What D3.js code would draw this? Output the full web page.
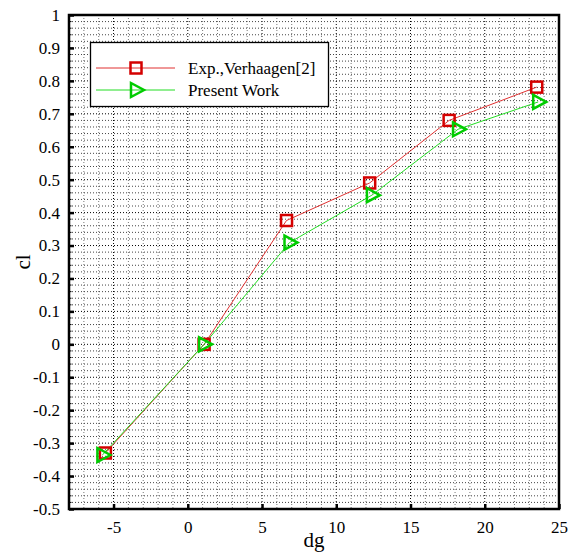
<!DOCTYPE html>
<html><head><meta charset="utf-8">
<script src="https://cdn.jsdelivr.net/npm/d3@7"></script>
<style>body{margin:0;background:#fff}svg text{font-family:'Liberation Serif',serif !important}</style>
</head><body><svg id="c" width="576" height="553"></svg>
<script>
const expX = [-5.55, 1.1, 6.65, 12.25, 17.6, 23.5];
const expY = [-0.33, 0.0, 0.376, 0.49, 0.68, 0.781];
const presX = [-5.75, 1.1, 6.85, 12.4, 18.2, 23.6];
const presY = [-0.336, 0.0, 0.309, 0.453, 0.653, 0.736];
const xTicks = [-5, 0, 5, 10, 15, 20, 25];
const yTicks = [-0.5,-0.4,-0.3,-0.2,-0.1,0,0.1,0.2,0.3,0.4,0.5,0.6,0.7,0.8,0.9,1];
const seriesNames = ["Exp.,Verhaagen[2]", "Present Work"];

const FF = "'Liberation Serif', serif";
const svg = d3.select("#c");
const L=69, R=559, T=15, B=509;
const x = d3.scaleLinear().domain([-8,25]).range([L,R]);
const y = d3.scaleLinear().domain([-0.5,1]).range([B,T]);

// grid
const g = svg.append("g");
const minorX = d3.range(-8, 25.001, 1);
const minorY = d3.range(-0.5, 1.0001, 0.02).map(v=>+v.toFixed(2));
g.selectAll(".vx").data(minorX).join("line")
  .attr("x1",d=>x(d)).attr("x2",d=>x(d)).attr("y1",T).attr("y2",B)
  .attr("stroke",d=>Math.abs(d%5)<1e-6?"#000":"#777").attr("stroke-width",1)
  .attr("stroke-dasharray","1,2");
g.selectAll(".hy").data(minorY).join("line")
  .attr("x1",L).attr("x2",R).attr("y1",d=>y(d)).attr("y2",d=>y(d))
  .attr("stroke",d=>Math.abs(Math.round(d*10)-d*10)<1e-6?"#000":"#444").attr("stroke-width",1)
  .attr("stroke-dasharray","1,2");

// frame
svg.append("rect").attr("x",L).attr("y",T).attr("width",R-L).attr("height",B-T)
  .attr("fill","none").attr("stroke","#000").attr("stroke-width",2.5);

// axes
const fmt = d => String(+(+d).toFixed(1));
const xAxis = d3.axisBottom(x).tickValues(xTicks).tickSize(-5).tickPadding(12).tickFormat(fmt);
const gx = svg.append("g").attr("transform",`translate(0,${B})`).call(xAxis);
gx.attr("font-family",null).attr("font-size",null);
gx.select(".domain").remove();
gx.selectAll(".tick line").attr("stroke-width",2.5);
gx.selectAll(".tick text").style("font-family",FF).style("font-size","17px").attr("fill","#000");

const yAxis = d3.axisLeft(y).tickValues(yTicks).tickSize(-5).tickPadding(9).tickFormat(fmt);
const gy = svg.append("g").attr("transform",`translate(${L},0)`).call(yAxis);
gy.attr("font-family",null).attr("font-size",null);
gy.select(".domain").remove();
gy.selectAll(".tick line").attr("stroke-width",2.5);
gy.selectAll(".tick text").style("font-family",FF).style("font-size","17px").attr("fill","#000");
// minor ticks left
svg.append("g").selectAll("line").data(minorY).join("line")
  .attr("x1",L).attr("x2",L+2.5).attr("y1",d=>y(d)).attr("y2",d=>y(d))
  .attr("stroke","#000").attr("stroke-width",1);

svg.append("text").attr("x",(L+R)/2).attr("y",547).attr("text-anchor","middle").style("font-size","21px").text("dg");
svg.append("text").attr("transform",`translate(30,${(T+B)/2}) rotate(-90)`).attr("text-anchor","middle").style("font-size","21px").text("cl");

// series
const redC="#d40000", redL="#e03030", grnC="#00cc00", grnL="#22dd22";
const line = d3.line().x(d=>x(d[0])).y(d=>y(d[1]));
const exp = expX.map((v,i)=>[v,expY[i]]);
const pres = presX.map((v,i)=>[v,presY[i]]);
svg.append("path").datum(exp).attr("d",line).attr("fill","none").attr("stroke",redL).attr("stroke-width",1);
svg.append("path").datum(pres).attr("d",line).attr("fill","none").attr("stroke",grnL).attr("stroke-width",1);

function square(sel, cx, cy){
  sel.append("rect").attr("x",cx-5.5).attr("y",cy-5.5).attr("width",11).attr("height",11)
    .attr("fill","none").attr("stroke",redC).attr("stroke-width",2.5);
}
function tri(sel, cx, cy){
  const p=[[cx-5,cy-7],[cx+8,cy],[cx-5,cy+7]];
  sel.append("path").attr("d","M"+p.join("L")+"Z").attr("fill","none").attr("stroke",grnC).attr("stroke-width",2.5).attr("stroke-linejoin","miter");
}
const mk = svg.append("g");
exp.forEach(d=>square(mk,x(d[0]),y(d[1])));
pres.forEach(d=>tri(mk,x(d[0]),y(d[1])));

// legend
const lg = svg.append("g");
lg.append("rect").attr("x",90.5).attr("y",42.5).attr("width",238).attr("height",64).attr("fill","#fff").attr("stroke","#000").attr("stroke-width",1.3);
const rows=[68,90];
lg.append("line").attr("x1",96).attr("x2",175).attr("y1",rows[0]).attr("y2",rows[0]).attr("stroke",redL).attr("stroke-width",1);
square(lg,136,rows[0]);
lg.append("line").attr("x1",96).attr("x2",175).attr("y1",rows[1]).attr("y2",rows[1]).attr("stroke",grnL).attr("stroke-width",1);
tri(lg,136,rows[1]);
seriesNames.forEach((n,i)=>lg.append("text").attr("x",188).attr("y",rows[i]+6).style("font-size","17px").text(n));
</script></body></html>
